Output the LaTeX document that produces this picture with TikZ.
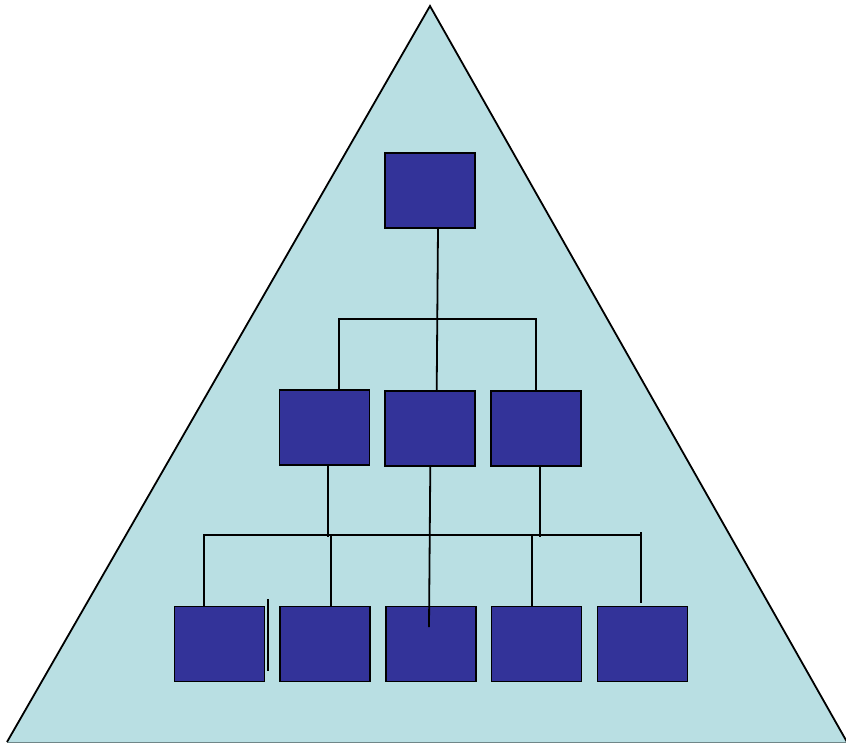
\documentclass[tikz,border=0pt]{standalone}
\definecolor{trifill}{HTML}{B9DFE3}
\definecolor{boxfill}{HTML}{333399}
\begin{document}
\begin{tikzpicture}[x=1pt,y=-1pt,
  orgbox/.style={draw=black, line width=1.8pt, fill=boxfill, minimum width=90pt, minimum height=75pt, inner sep=0pt},
  link/.style={draw=black, line width=1.8pt}]
\useasboundingbox (0,0) rectangle (846,742);
% triangle
\coordinate (apex) at (430,6);
\coordinate (bl) at (7,742);
\coordinate (br) at (847,742);
\fill[trifill] (apex) -- (br) -- (bl) -- cycle;
\draw[trifill!60!black, line width=1pt] (bl) -- (br);
\draw[black, line width=1.8pt] (bl) -- (apex) -- (br);
% boxes
\node[orgbox] (top) at (430,190.5) {};
\node[orgbox] (m1) at (324.5,427.5) {};
\node[orgbox] (m2) at (430,428.5) {};
\node[orgbox] (m3) at (536,428.5) {};
\node[orgbox] (b1) at (219.5,644) {};
\node[orgbox] (b2) at (325,644) {};
\node[orgbox] (b3) at (431,644) {};
\node[orgbox] (b4) at (536.5,644) {};
\node[orgbox] (b5) at (642.5,644) {};
% connector points
\coordinate (barL) at (339.3,319);
\coordinate (barR) at (536,319);
\coordinate (bar2L) at (204,535);
\coordinate (bar2R) at (641,535);
\coordinate (m1end) at (328.3,537);
\coordinate (m2end) at (429,627);
\coordinate (m3end) at (540,537);
\coordinate (d2) at (331,535);
\coordinate (d4) at (532,535);
\coordinate (tickTop) at (641,532);
\coordinate (tickEnd) at (641,603);
\coordinate (strayA) at (268.3,599);
\coordinate (strayB) at (268.3,671);
% upper level
\draw[link] ([xshift=8pt]top.south) -- ([xshift=6.7pt]m2.north);
\draw[link] (barL |- m1.north) -- (barL) -- (barR) -- (m3.north);
% middle to lower
\draw[link] ([xshift=3.8pt]m1.south) -- (m1end);
\draw[link] ([xshift=0.3pt]m2.south) -- (m2end);
\draw[link] ([xshift=4pt]m3.south) -- (m3end);
\draw[link] (b1.north -| bar2L) -- (bar2L) -- (bar2R);
\draw[link] (d2) -- (d2 |- b2.north);
\draw[link] (d4) -- (d4 |- b4.north);
\draw[link] (tickTop) -- (tickEnd);
\draw[link] (strayA) -- (strayB);
\end{tikzpicture}
\end{document}
